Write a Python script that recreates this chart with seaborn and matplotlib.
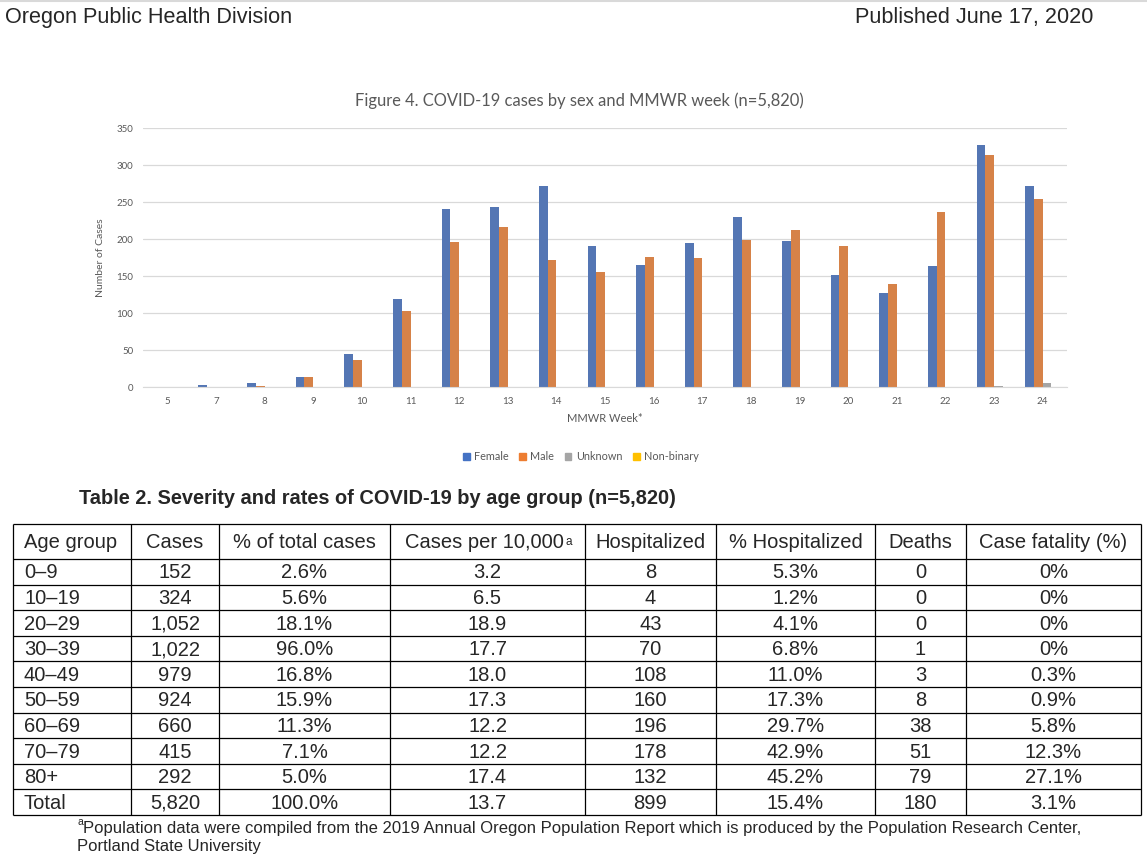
import pandas as pd
import matplotlib.pyplot as plt
import seaborn as sns

# Figure 4 data: cases by MMWR week and sex
weeks = ["5", "7", "8", "9", "10", "11", "12", "13", "14", "15",
         "16", "17", "18", "19", "20", "21", "22", "23", "24"]
female = [0, 3, 5, 13, 44, 119, 240, 243, 272, 191,
          165, 195, 230, 197, 152, 127, 164, 327, 272]
male = [0, 0, 2, 13, 37, 103, 196, 216, 171, 156,
        176, 175, 199, 212, 190, 139, 236, 313, 254]
unknown = [0, 0, 0, 0, 0, 0, 0, 0, 0, 0,
           0, 0, 0, 0, 0, 0, 0, 2, 6]
nonbinary = [0, 0, 0, 0, 0, 0, 0, 0, 0, 0,
             0, 0, 0, 0, 0, 0, 0, 0, 0]
sexes = ["Female", "Male", "Unknown", "Non-binary"]
colores = ["#4472C4", "#ED7D31", "#A5A5A5", "#FFC000"]

# Table 2 data
col_names = ["Age group", "Cases", "% of total cases", "Cases per 10,000",
             "Hospitalized", "% Hospitalized", "Deaths", "Case fatality (%)"]
age_groups = ["0–9", "10–19", "20–29", "30–39", "40–49", "50–59",
              "60–69", "70–79", "80+", "Total"]
cases = ["152", "324", "1,052", "1,022", "979", "924", "660", "415", "292", "5,820"]
pct_total = ["2.6%", "5.6%", "18.1%", "96.0%", "16.8%", "15.9%",
             "11.3%", "7.1%", "5.0%", "100.0%"]
per_10k = ["3.2", "6.5", "18.9", "17.7", "18.0", "17.3", "12.2", "12.2", "17.4", "13.7"]
hospitalized = ["8", "4", "43", "70", "108", "160", "196", "178", "132", "899"]
pct_hosp = ["5.3%", "1.2%", "4.1%", "6.8%", "11.0%", "17.3%",
            "29.7%", "42.9%", "45.2%", "15.4%"]
deaths = ["0", "0", "0", "1", "3", "8", "38", "51", "79", "180"]
fatality = ["0%", "0%", "0%", "0%", "0.3%", "0.9%", "5.8%", "12.3%", "27.1%", "3.1%"]

df = pd.DataFrame({"week": weeks * 4,
                   "cases": female + male + unknown + nonbinary,
                   "sex": [s for s in sexes for _ in weeks]})

sns.set_style("white")
plt.rcParams["font.family"] = ["Liberation Sans", "DejaVu Sans"]

fig = plt.figure(figsize=(11.47, 8.68), dpi=100)
ax = fig.add_axes([0.1247, 0.5541, 0.8056, 0.2984])

sns.barplot(data=df, x="week", y="cases", hue="sex", order=weeks, hue_order=sexes,
            palette=colores, width=0.72, gap=0, legend=False, ax=ax,
            edgecolor="none", linewidth=0)
ax.set_ylim(0, 350)
ax.set_yticks(range(0, 351, 50))
ax.yaxis.grid(True, color="#D9D9D9", linewidth=0.9)
ax.set_axisbelow(True)
for s in ["top", "left", "right"]:
    ax.spines[s].set_visible(False)
ax.spines["bottom"].set_color("#D9D9D9")
ax.tick_params(length=0, labelsize=7, labelcolor="#595959", pad=7)
for lab in ax.get_xticklabels() + ax.get_yticklabels():
    lab.set_family("Lato")
ax.set_xlabel("MMWR Week*", family="Lato", fontsize=8, color="#595959", labelpad=5)
ax.set_ylabel("Number of Cases", family="Lato", fontsize=7.5, color="#595959", labelpad=8)
fig.text(579 / 1147, 1 - 101 / 868, "Figure 4. COVID-19 cases by sex and MMWR week (n=5,820)",
         family="Lato", fontsize=11.9, color="#595959", ha="center", va="center")

handles = [plt.Rectangle((0, 0), 1, 1, color=c) for c in colores]
fig.legend(handles, sexes, loc="center", bbox_to_anchor=(581 / 1147, 1 - 457 / 868), ncol=4,
           frameon=False, handlelength=0.6, handleheight=0.6, handletextpad=0.4,
           columnspacing=1.0, prop={"family": "Lato", "size": 7.8},
           labelcolor="#595959")

# page texts and table, drawn in pixel coordinates
tab = fig.add_axes([0, 0, 1, 1])
tab.set_xlim(0, 1147)
tab.set_ylim(868, 0)
tab.axis("off")

tab.axhline(0.5, color="#D9D9D9", linewidth=1.5)
tab.text(5, 17, "Oregon Public Health Division", fontsize=15.6, va="center", ha="left")
tab.text(1093, 17, "Published June 17, 2020", fontsize=15.6, va="center", ha="right")
tab.text(377, 498, "Table 2. Severity and rates of COVID-19 by age group (n=5,820)",
         fontsize=14.4, fontweight="bold", va="center", ha="center")

col_x = [13, 131, 219, 390, 585, 716, 875, 966, 1141]
top, head_bot, row_h = 524, 559, 25.6
row_y = [head_bot + row_h * k for k in range(len(age_groups) + 1)]
bottom = row_y[-1]

tab.hlines([top] + row_y, col_x[0], col_x[-1], color="black", linewidth=0.9)
tab.vlines(col_x, top, bottom, color="black", linewidth=0.9)

fs = 14.5
for i, name in enumerate(col_names):
    cx = (col_x[i] + col_x[i + 1]) / 2
    cy = (top + head_bot) / 2 + 1
    if i == 0:
        tab.text(col_x[0] + 11, cy, name, fontsize=fs, va="center", ha="left")
    elif name == "Cases per 10,000":
        t = tab.text(cx - 3, cy, name, fontsize=fs, va="center", ha="center")
        tab.annotate("a", xy=(1, 1), xycoords=t, xytext=(1, -2), textcoords="offset points",
                     fontsize=8.5, va="top", ha="left")
    else:
        tab.text(cx, cy, name, fontsize=fs, va="center", ha="center")

columns = [age_groups, cases, pct_total, per_10k, hospitalized, pct_hosp, deaths, fatality]
for i, col in enumerate(columns):
    cx = (col_x[i] + col_x[i + 1]) / 2
    for r, val in enumerate(col):
        cy = head_bot + row_h * (r + 0.5) + 1
        if i == 0:
            tab.text(col_x[0] + 11, cy, val, fontsize=fs, va="center", ha="left")
        else:
            tab.text(cx, cy, val, fontsize=fs, va="center", ha="center")

tab.text(77, 822, "a", fontsize=7.5, va="center", ha="left")
tab.text(83, 829, "Population data were compiled from the 2019 Annual Oregon Population Report "
         "which is produced by the Population Research Center,", fontsize=12, va="center", ha="left")
tab.text(77, 847, "Portland State University", fontsize=12, va="center", ha="left")

fig.savefig("out.png", dpi=100)
